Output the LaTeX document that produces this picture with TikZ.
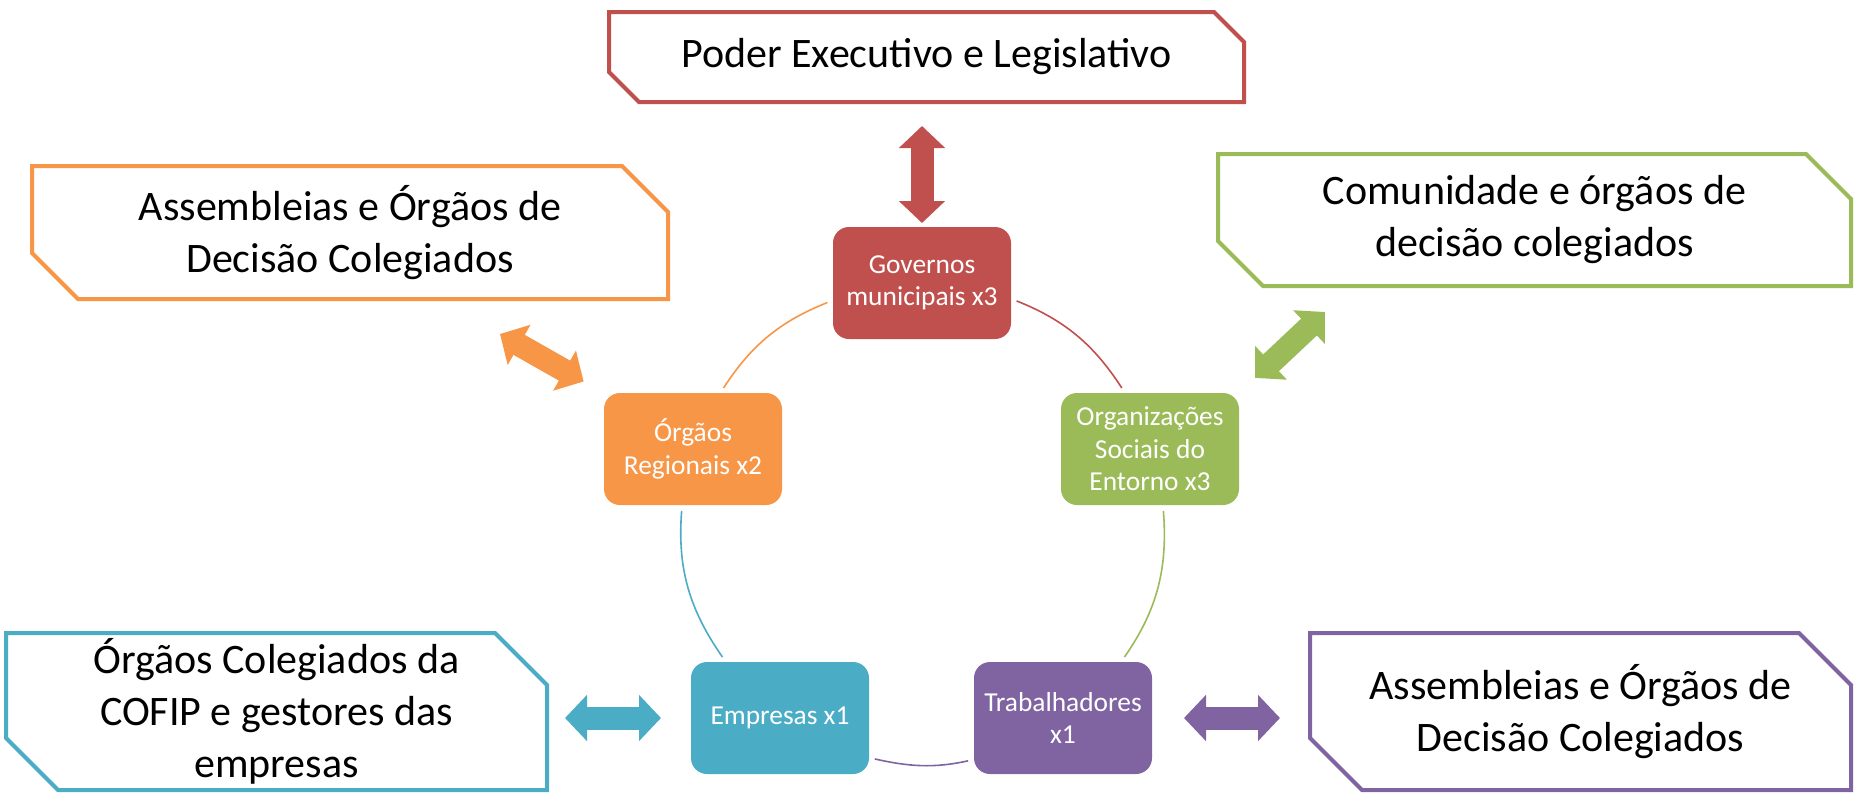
\documentclass[tikz,border=0pt]{standalone}
\usepackage{fontspec}
\setmainfont{Carlito}
\usetikzlibrary{arrows.meta}

\definecolor{govred}{HTML}{C0504D}
\definecolor{regorange}{HTML}{F79646}
\definecolor{orggreen}{HTML}{9BBB59}
\definecolor{empblue}{HTML}{4BACC6}
\definecolor{trabpurple}{HTML}{8064A2}

\begin{document}
\begin{tikzpicture}[x=0.5pt, y=0.5pt,
  actor/.style={rectangle, rounded corners=8pt, minimum width=89pt, minimum height=56pt, inner sep=0pt, outer sep=0pt, text=white, align=center, font=\fontsize{13.7}{16.3}\selectfont},
  forum/.style={inner sep=0pt, outer sep=0pt, align=center, font=\fontsize{21}{26}\selectfont},
  forumline/.style={line width=2pt},
  ring/.style={line width=0.8pt, shorten <=3pt, shorten >=3pt},
  dblarrow/.style={line width=11.5pt, {Triangle[length=11pt,width=22.5pt]}-{Triangle[length=11pt,width=22.5pt]}}]

\useasboundingbox (0,0) rectangle (1854,-794);

% outer boxes
\node[forum, minimum width=317.5pt, minimum height=45pt] (poder) at (926.5,-57) {Poder Executivo e Legislativo};
\node[forum, minimum width=318pt, minimum height=66.5pt] (assemb) at (350,-232.5) {Assembleias e Órgãos de\\Decisão Colegiados};
\node[forum, minimum width=316.5pt, minimum height=66pt] (comun) at (1534.5,-220) {Comunidade e órgãos de\\decisão colegiados};
\node[forum, minimum width=270.5pt, minimum height=78.5pt] (cofip) at (276.5,-711.5) {Órgãos Colegiados da\\COFIP e gestores das\\empresas};
\node[forum, minimum width=270.5pt, minimum height=78.5pt] (decisao) at (1580.5,-711.5) {Assembleias e Órgãos de\\Decisão Colegiados};

\draw[forumline, govred] ([xshift=-15pt]poder.north east) -- ([yshift=-15pt]poder.north east) -- (poder.south east) -- ([xshift=15pt]poder.south west) -- ([yshift=15pt]poder.south west) -- (poder.north west) -- cycle;
\draw[forumline, regorange] ([xshift=-23pt]assemb.north east) -- ([yshift=-23pt]assemb.north east) -- (assemb.south east) -- ([xshift=23pt]assemb.south west) -- ([yshift=23pt]assemb.south west) -- (assemb.north west) -- cycle;
\draw[forumline, orggreen] ([xshift=-22.5pt]comun.north east) -- ([yshift=-22.5pt]comun.north east) -- (comun.south east) -- ([xshift=22.5pt]comun.south west) -- ([yshift=22.5pt]comun.south west) -- (comun.north west) -- cycle;
\draw[forumline, empblue] ([xshift=-26pt]cofip.north east) -- ([yshift=-26pt]cofip.north east) -- (cofip.south east) -- ([xshift=26pt]cofip.south west) -- ([yshift=26pt]cofip.south west) -- (cofip.north west) -- cycle;
\draw[forumline, trabpurple] ([xshift=-26pt]decisao.north east) -- ([yshift=-26pt]decisao.north east) -- (decisao.south east) -- ([xshift=26pt]decisao.south west) -- ([yshift=26pt]decisao.south west) -- (decisao.north west) -- cycle;

% ring of actors
\node[actor, fill=govred] (gov) at (922,-283) {Governos\\municipais x3};
\node[actor, fill=regorange] (reg) at (693,-449) {Órgãos\\Regionais x2};
\node[actor, fill=orggreen] (org) at (1150,-449) {Organizações\\Sociais do\\Entorno x3};
\node[actor, fill=empblue] (emp) at (780,-718) {Empresas x1};
\node[actor, fill=trabpurple] (trab) at (1063,-718) {Trabalhadores\\x1};

\draw[ring, govred] (gov.-10.8) to[out=-21.7, in=122.9] (org.114.6);
\draw[ring, orggreen] (org.-77.7) to[out=-85.5, in=55.1] (trab.44.7);
\draw[ring, trabpurple] (trab.-155.1) to[out=-167.5, in=-12.7] (emp.-24.8);
\draw[ring, empblue] (emp.134.8) to[out=124.9, in=-94.5] (reg.-101.3);
\draw[ring, regorange] (reg.64.5) to[out=57.1, in=201.7] (gov.-169.2);

% double arrows
\coordinate (asmtip) at (500,-334);
\coordinate (comtip) at (1325,-312);
\draw[dblarrow, govred, shorten <=2pt, shorten >=12pt] (gov.north) -- (gov.north |- poder.south);
\draw[dblarrow, regorange, shorten <=11.7pt] (reg.north west) -- (asmtip);
\draw[dblarrow, orggreen, shorten <=11pt] (org.north east) -- (comtip);
\draw[dblarrow, empblue, shorten <=15pt, shorten >=9pt] (emp.west) -- (emp.west -| cofip.east);
\draw[dblarrow, trabpurple, shorten <=16pt, shorten >=15pt] (trab.east) -- (trab.east -| decisao.west);
\end{tikzpicture}
\end{document}
